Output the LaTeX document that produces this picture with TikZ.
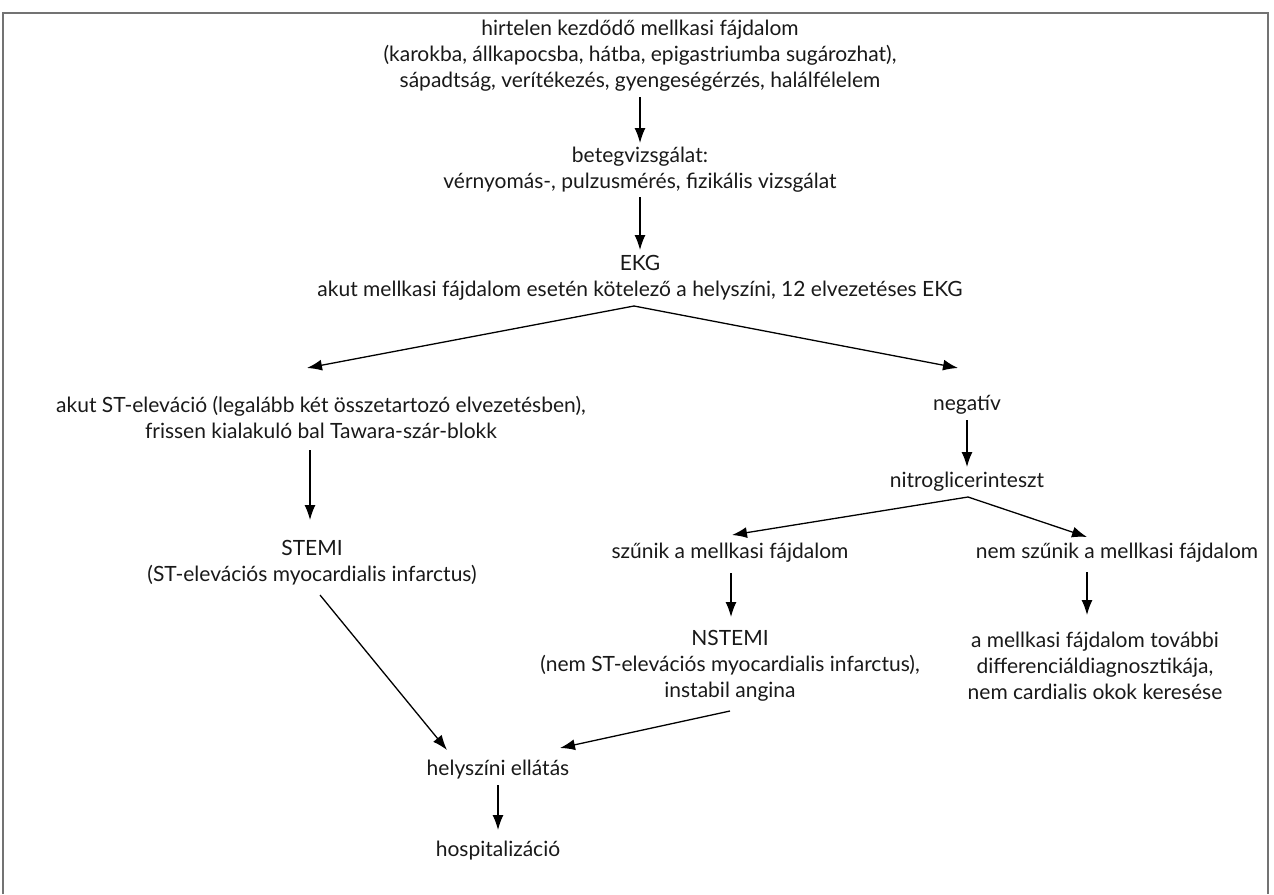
\documentclass[tikz,border=0pt]{standalone}
\usepackage{fontspec}
\setmainfont{Lato}
\usetikzlibrary{arrows.meta}
\begin{document}
\begin{tikzpicture}[x=1pt,y=-1pt,
  txt/.style={align=center,inner sep=0pt,font=\fontsize{21}{26}\selectfont,text=black!90},
  arr/.style={line width=1.3pt,-{Latex[length=15pt,width=11pt]}},
  frame/.style={line width=2pt,draw=black!55}]
\useasboundingbox (0,0) rectangle (1274,894);
\draw[frame] (3,894) -- (3,13) -- (1268,13) -- (1268,894);

\node[txt] (n1) at (640,56) {hirtelen kezdődő mellkasi fájdalom\\(karokba, állkapocsba, hátba, epigastriumba sugározhat),\\sápadtság, verítékezés, gyengeségérzés, halálfélelem};
\node[txt] (n2) at (640,170) {betegvizsgálat:\\vérnyomás-, pulzusmérés, fizikális vizsgálat};
\node[txt] (n3) at (640,278) {EKG\\akut mellkasi fájdalom esetén kötelező a helyszíni, 12 elvezetéses EKG};
\node[txt] (akut) at (321,417) {akut ST-eleváció (legalább két összetartozó elvezetésben),\\frissen kialakuló bal Tawara-szár-blokk};
\node[txt] (stemi) at (312,563) {STEMI\\(ST-elevációs myocardialis infarctus)};
\node[txt] (neg) at (967,405) {negatív};
\node[txt] (nitro) at (967,482) {nitroglicerinteszt};
\node[txt] (szun) at (730,553) {szűnik a mellkasi fájdalom};
\node[txt] (nemszun) at (1117,553) {nem szűnik a mellkasi fájdalom};
\node[txt] (nstemi) at (730,666) {NSTEMI\\(nem ST-elevációs myocardialis infarctus),\\instabil angina};
\node[txt] (diff) at (1095,666) {a mellkasi fájdalom további\\differenciáldiagnosztikája,\\nem cardialis okok keresése};
\node[txt] (hely) at (498,770) {helyszíni ellátás};
\node[txt] (hosp) at (498,851) {hospitalizáció};

\draw[arr] ([shift={(0,41)}]n1.center) -- ([shift={(0,-27)}]n2.center);
\draw[arr] ([shift={(0,27)}]n2.center) -- ([shift={(0,-28)}]n3.center);
\draw[arr] ([shift={(-6,28)}]n3.center) -- ([shift={(-14,-49)}]akut.center);
\draw[arr] ([shift={(-6,28)}]n3.center) -- ([shift={(-9,-37)}]neg.center);
\draw[arr] ([shift={(-11,33)}]akut.center) -- ([shift={(-2,-43)}]stemi.center);
\draw[arr] ([shift={(8,32)}]stemi.center) -- ([shift={(-51,-20)}]hely.center);
\draw[arr] ([shift={(0,15)}]neg.center) -- ([shift={(0,-15)}]nitro.center);
\draw[arr] ([shift={(1,15)}]nitro.center) -- ([shift={(2,-18)}]szun.center);
\draw[arr] ([shift={(1,15)}]nitro.center) -- ([shift={(-30,-16)}]nemszun.center);
\draw[arr] ([shift={(1,20)}]szun.center) -- ([shift={(1,-49)}]nstemi.center);
\draw[arr] ([shift={(-30,19)}]nemszun.center) -- ([shift={(-8,-51)}]diff.center);
\draw[arr] ([shift={(0,45)}]nstemi.center) -- ([shift={(62,-22)}]hely.center);
\draw[arr] ([shift={(0,15)}]hely.center) -- ([shift={(0,-21)}]hosp.center);
\end{tikzpicture}
\end{document}
